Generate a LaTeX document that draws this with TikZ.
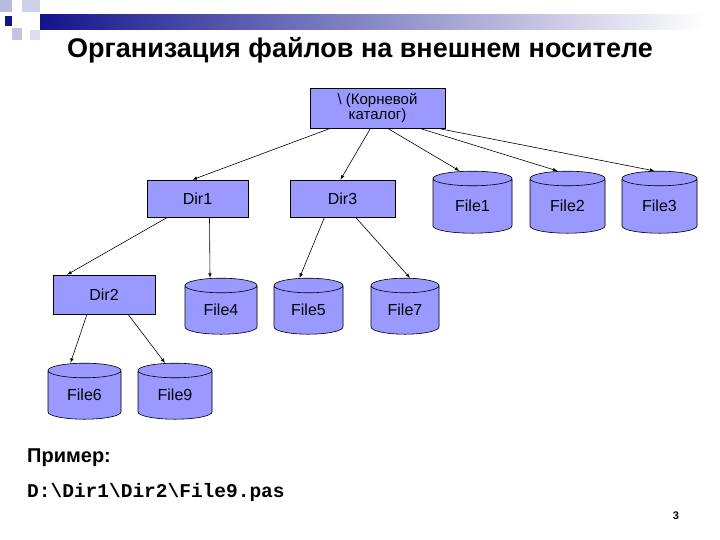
\documentclass[tikz,border=0pt]{standalone}
\usepackage{fontspec}
\setmainfont{Liberation Sans}
\newfontfamily\codefont{Liberation Mono}
\usetikzlibrary{shapes.geometric}
\definecolor{boxfill}{RGB}{153,153,255}
\definecolor{topfill}{RGB}{185,185,255}
\definecolor{hdrblue}{RGB}{20,20,140}
\begin{document}
\begin{tikzpicture}[x=1pt,y=-1pt,
  dirbox/.style={draw=black,semithick,fill=boxfill,font=\fontsize{16}{16}\selectfont,inner sep=0pt,align=center},
  filecyl/.style={cylinder,shape border rotate=90,draw=black,semithick,fill=boxfill,cylinder uses custom fill,
    cylinder body fill=boxfill,cylinder end fill=topfill,aspect=0.42,inner sep=0pt,
    font=\fontsize{16}{16}\selectfont},
  arr/.style={-latex,semithick}]
\useasboundingbox (0,0) rectangle (720,540);
\fill[white] (0,0) rectangle (720,540);
% header decoration
\shade[left color=hdrblue,right color=white] (40,15) rectangle (705,30);
\fill[hdrblue!30] (0,0) rectangle (12,12);
\fill[hdrblue!20] (22,0) rectangle (40,12);
\fill[hdrblue] (5,16) rectangle (12,26);
\fill[hdrblue!25] (12,28) rectangle (22,40);
\fill[hdrblue!15] (30,30) rectangle (40,40);
\node (title) at (360,50) {\fontsize{27}{30}\selectfont\bfseries Организация файлов на внешнем носителе};
% directories
\node[dirbox,minimum width=135,minimum height=40,font=\fontsize{15}{15}\selectfont] (root) at (377.5,108) {\textbackslash\ (Корневой\\каталог)};
\node[dirbox,minimum width=101,minimum height=37] (d1) at (197.5,198.5) {Dir1};
\node[dirbox,minimum width=105,minimum height=37] (d3) at (342.5,198.5) {Dir3};
\node[dirbox,minimum width=102,minimum height=39] (d2) at (104,294.5) {Dir2};
% files
\node[filecyl,minimum width=79,minimum height=62] (f1) at (472.5,206) {File1};
\node[filecyl,minimum width=75,minimum height=62] (f2) at (567.5,206) {File2};
\node[filecyl,minimum width=75,minimum height=62] (f3) at (659.5,206) {File3};
\node[filecyl,minimum width=72,minimum height=56] (f4) at (221,310) {File4};
\node[filecyl,minimum width=69,minimum height=56] (f5) at (308.5,310) {File5};
\node[filecyl,minimum width=68,minimum height=56] (f7) at (405,310) {File7};
\node[filecyl,minimum width=73,minimum height=56] (f6) at (84.5,395) {File6};
\node[filecyl,minimum width=74,minimum height=56] (f9) at (175,395) {File9};
% connectors
\draw[arr] ([xshift=-47]root.south) -- ([xshift=-5]d1.north);
\draw[arr] ([xshift=-7]root.south) -- ([xshift=-2]d3.north);
\draw[arr] ([xshift=10]root.south) -- ([xshift=-13]f1.top);
\draw[arr] ([xshift=42]root.south) -- ([xshift=-10]f2.top);
\draw[arr] ([xshift=60]root.south) -- ([xshift=-5]f3.top);
\draw[arr] ([xshift=-30]d1.south) -- ([xshift=-37]d2.north);
\draw[arr] ([xshift=12]d1.south) -- ([xshift=-11]f4.top);
\draw[arr] ([xshift=-18]d3.south) -- ([xshift=-9]f5.top);
\draw[arr] ([xshift=13]d3.south) -- ([xshift=5]f7.top);
\draw[arr] ([xshift=-17]d2.south) -- ([xshift=-14]f6.top);
\draw[arr] ([xshift=24]d2.south) -- ([xshift=-10]f9.top);
% texts
\node[anchor=west,inner sep=0pt] (ex) at (27,458) {\fontsize{20}{22}\selectfont\bfseries Пример:};
\node[anchor=west,inner sep=0pt] (path) at (27,492) {\fontsize{19.5}{22}\selectfont\codefont\bfseries D:\textbackslash Dir1\textbackslash Dir2\textbackslash File9.pas};
\node (pg) at (676,516) {\fontsize{11}{12}\selectfont\bfseries 3};
\end{tikzpicture}
\end{document}
